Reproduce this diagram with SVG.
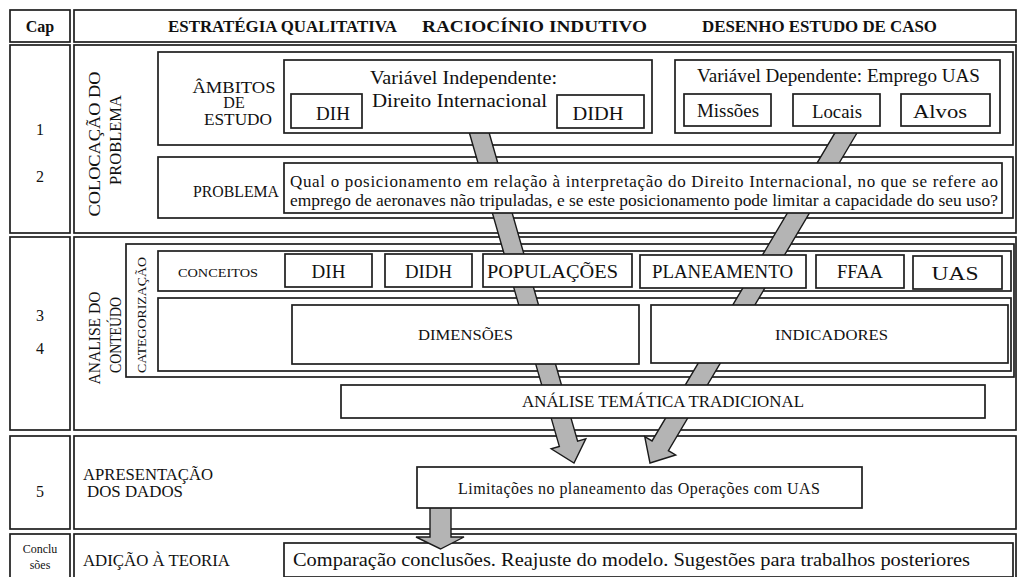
<svg xmlns="http://www.w3.org/2000/svg" width="1018" height="577" viewBox="0 0 1018 577">
<style>
.cell{fill:#fff;stroke:#1e1e1e;stroke-width:1.7}
.box{fill:#fff;stroke:#1e1e1e;stroke-width:1.7}
.t{font-family:"Liberation Serif","Times New Roman",serif;fill:#111}
.b{font-weight:bold}
.m{text-anchor:middle}
.arrow{fill:#b4b4b4;stroke:#1a1a1a;stroke-width:1.4;stroke-linejoin:miter}
</style>
<rect width="1018" height="577" fill="#fff"/>

<!-- table cells -->
<g id="header">
  <rect class="cell" x="10" y="10" width="60" height="32"/>
  <rect class="cell" x="74" y="10" width="942" height="32"/>
  <text class="t b m" x="40" y="32" font-size="16">Cap</text>
  <text class="t b" x="168" y="32" font-size="16" textLength="229" lengthAdjust="spacingAndGlyphs">ESTRATÉGIA QUALITATIVA</text>
  <text class="t b" x="422" y="32" font-size="16" textLength="225" lengthAdjust="spacingAndGlyphs">RACIOCÍNIO INDUTIVO</text>
  <text class="t b" x="702" y="32" font-size="16" textLength="235" lengthAdjust="spacingAndGlyphs">DESENHO ESTUDO DE CASO</text>
</g>

<g id="row-colocacao">
  <rect class="cell" x="10" y="45" width="60" height="188"/>
  <rect class="cell" x="74" y="45" width="942" height="188"/>
  <text class="t m" x="40" y="135" font-size="16">1</text>
  <text class="t m" x="40" y="182" font-size="16">2</text>
  <text class="t m" transform="translate(100,144) rotate(-90)" font-size="17" textLength="145" lengthAdjust="spacingAndGlyphs">COLOCAÇÃO DO</text>
  <text class="t m" transform="translate(121,140) rotate(-90)" font-size="17" textLength="90" lengthAdjust="spacingAndGlyphs">PROBLEMA</text>
</g>

<g id="row-analise">
  <rect class="cell" x="10" y="237" width="60" height="193"/>
  <rect class="cell" x="74" y="237" width="942" height="193"/>
  <text class="t m" x="40" y="321" font-size="16">3</text>
  <text class="t m" x="40" y="354" font-size="16">4</text>
  <text class="t m" transform="translate(100,338) rotate(-90)" font-size="16" textLength="93" lengthAdjust="spacingAndGlyphs">ANALISE DO</text>
  <text class="t m" transform="translate(121,335) rotate(-90)" font-size="16" textLength="76" lengthAdjust="spacingAndGlyphs">CONTEÚDO</text>
</g>

<g id="row-apresentacao">
  <rect class="cell" x="10" y="436" width="60" height="93"/>
  <rect class="cell" x="74" y="436" width="942" height="93"/>
  <text class="t m" x="40" y="497" font-size="16">5</text>
  <text class="t" x="83" y="480" font-size="17" textLength="130" lengthAdjust="spacingAndGlyphs">APRESENTAÇÃO</text>
  <text class="t" x="87" y="497" font-size="17" textLength="96" lengthAdjust="spacingAndGlyphs">DOS DADOS</text>
</g>

<g id="row-conclusoes">
  <rect class="cell" x="10" y="534" width="60" height="50"/>
  <rect class="cell" x="74" y="534" width="942" height="50"/>
  <text class="t m" x="40" y="553" font-size="12">Conclu</text>
  <text class="t m" x="40" y="569" font-size="12">sões</text>
  <text class="t" x="83" y="566" font-size="17" textLength="147" lengthAdjust="spacingAndGlyphs">ADIÇÃO À TEORIA</text>
</g>

<!-- outer sub-boxes -->
<g id="ambitos">
  <rect class="box" x="158" y="52" width="855" height="93"/>
  <text class="t m" x="234" y="93" font-size="16" textLength="83" lengthAdjust="spacingAndGlyphs">ÂMBITOS</text>
  <text class="t m" x="234" y="108" font-size="16">DE</text>
  <text class="t m" x="238" y="125" font-size="16" textLength="68" lengthAdjust="spacingAndGlyphs">ESTUDO</text>
</g>
<g id="problema">
  <rect class="box" x="158" y="157" width="855" height="61"/>
  <text class="t" x="193" y="197" font-size="16" textLength="86" lengthAdjust="spacingAndGlyphs">PROBLEMA</text>
</g>
<g id="categorizacao">
  <rect class="box" x="126" y="244" width="888" height="133"/>
  <text class="t m" transform="translate(146,315) rotate(-90)" font-size="12.5" textLength="116" lengthAdjust="spacingAndGlyphs">CATEGORIZAÇÃO</text>
</g>
<g id="conceitos">
  <rect class="box" x="158" y="251" width="853" height="40"/>
  <text class="t" x="178" y="277" font-size="13" textLength="80" lengthAdjust="spacingAndGlyphs">CONCEITOS</text>
</g>
<g id="dim-ind">
  <rect class="box" x="158" y="298" width="853" height="73"/>
</g>
<g id="comparacao">
  <rect class="box" x="284" y="543" width="729" height="34"/>
  <text class="t" x="293" y="566" font-size="19" textLength="677" lengthAdjust="spacingAndGlyphs">Comparação conclusões. Reajuste do modelo. Sugestões para trabalhos posteriores</text>
</g>

<!-- connectors -->
<g id="connectors">
  <path class="arrow" transform="translate(574,463) rotate(73.99)" d="M-350,-9.5 L-20,-9.5 L-20,-18 L0,0 L-20,18 L-20,9.5 L-350,9.5 Z"/>
  <path class="arrow" transform="translate(650,463) rotate(120.7)" d="M-390,-9.5 L-20,-9.5 L-20,-18 L0,0 L-20,18 L-20,9.5 L-390,9.5 Z"/>
  <path class="arrow" d="M430,500 L451,500 L451,537 L464,537 L440.5,549 L416,537 L430,537 Z"/>
</g>

<!-- inner boxes -->
<g id="var-independente">
  <rect class="box" x="284" y="60" width="368" height="73"/>
  <text class="t" x="370" y="84" font-size="19" textLength="187" lengthAdjust="spacingAndGlyphs">Variável Independente:</text>
  <text class="t" x="372" y="107" font-size="19" textLength="175" lengthAdjust="spacingAndGlyphs">Direito Internacional</text>
</g>
<g id="amb-dih">
  <rect class="box" x="291" y="94" width="71" height="34"/>
  <text class="t m" x="333" y="120" font-size="19">DIH</text>
</g>
<g id="amb-didh">
  <rect class="box" x="557" y="95" width="87" height="33"/>
  <text class="t m" x="598" y="120" font-size="19" textLength="51" lengthAdjust="spacingAndGlyphs">DIDH</text>
</g>
<g id="var-dependente">
  <rect class="box" x="675" y="60" width="325" height="73"/>
  <text class="t" x="697" y="82" font-size="19" textLength="283" lengthAdjust="spacingAndGlyphs">Variável Dependente: Emprego UAS</text>
</g>
<g id="missoes">
  <rect class="box" x="684" y="94" width="87" height="32"/>
  <text class="t m" x="728" y="117" font-size="19" textLength="62" lengthAdjust="spacingAndGlyphs">Missões</text>
</g>
<g id="locais">
  <rect class="box" x="793" y="94" width="87" height="32"/>
  <text class="t m" x="837" y="118" font-size="19" textLength="50" lengthAdjust="spacingAndGlyphs">Locais</text>
</g>
<g id="alvos">
  <rect class="box" x="901" y="94" width="89" height="32"/>
  <text class="t m" x="940" y="118" font-size="19" textLength="54" lengthAdjust="spacingAndGlyphs">Alvos</text>
</g>
<g id="problema-texto">
  <rect class="box" x="284" y="163" width="718" height="50"/>
  <text class="t" x="290" y="187" font-size="17" textLength="708" lengthAdjust="spacing">Qual o posicionamento em relação à interpretação do Direito Internacional, no que se refere ao</text>
  <text class="t" x="290" y="206" font-size="17" textLength="708" lengthAdjust="spacingAndGlyphs">emprego de aeronaves não tripuladas, e se este posicionamento pode limitar a capacidade do seu uso?</text>
</g>
<g id="c-dih">
  <rect class="box" x="285" y="254" width="87" height="33"/>
  <text class="t m" x="328.5" y="278" font-size="19">DIH</text>
</g>
<g id="c-didh">
  <rect class="box" x="385" y="254" width="87" height="33"/>
  <text class="t m" x="428.5" y="278" font-size="19" textLength="47" lengthAdjust="spacingAndGlyphs">DIDH</text>
</g>
<g id="c-populacoes">
  <rect class="box" x="483" y="254" width="149" height="33"/>
  <text class="t m" x="552.5" y="278" font-size="19" textLength="131" lengthAdjust="spacingAndGlyphs">POPULAÇÕES</text>
</g>
<g id="c-planeamento">
  <rect class="box" x="640" y="255" width="166" height="33"/>
  <text class="t m" x="722.5" y="278" font-size="19" textLength="141" lengthAdjust="spacingAndGlyphs">PLANEAMENTO</text>
</g>
<g id="c-ffaa">
  <rect class="box" x="816" y="255" width="88" height="33"/>
  <text class="t m" x="860" y="278" font-size="19" textLength="46" lengthAdjust="spacingAndGlyphs">FFAA</text>
</g>
<g id="c-uas">
  <rect class="box" x="913" y="256" width="89" height="33"/>
  <text class="t m" x="955" y="280" font-size="19" textLength="47" lengthAdjust="spacingAndGlyphs">UAS</text>
</g>
<g id="dimensoes">
  <rect class="box" x="292" y="305" width="347" height="59"/>
  <text class="t m" x="465.5" y="340" font-size="15" textLength="95" lengthAdjust="spacingAndGlyphs">DIMENSÕES</text>
</g>
<g id="indicadores">
  <rect class="box" x="651" y="305" width="357" height="58"/>
  <text class="t m" x="831.5" y="340" font-size="15" textLength="113" lengthAdjust="spacingAndGlyphs">INDICADORES</text>
</g>
<g id="analise-tematica">
  <rect class="box" x="341" y="385" width="644" height="33"/>
  <text class="t" x="522" y="407" font-size="17" textLength="282" lengthAdjust="spacingAndGlyphs">ANÁLISE TEMÁTICA TRADICIONAL</text>
</g>
<g id="limitacoes">
  <rect class="box" x="417" y="467" width="445" height="41"/>
  <text class="t" x="458" y="494" font-size="16" textLength="362" lengthAdjust="spacing">Limitações no planeamento das Operações com UAS</text>
</g>
</svg>
